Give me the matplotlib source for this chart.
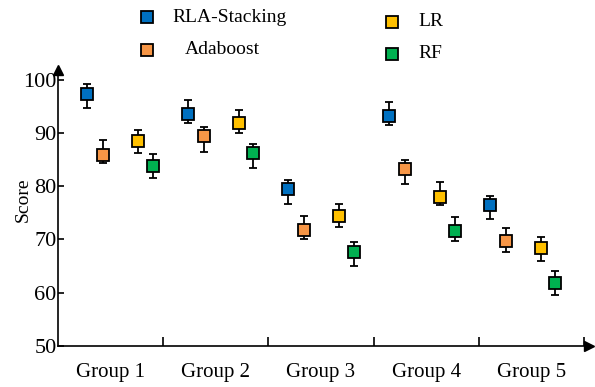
import matplotlib
matplotlib.use("Agg")
import matplotlib.pyplot as plt
from matplotlib.lines import Line2D
import numpy as np

plt.rcParams['font.family'] = ['Liberation Serif', 'DejaVu Serif']

groups = ["Group 1", "Group 2", "Group 3", "Group 4", "Group 5"]
models = ["RLA-Stacking", "Adaboost", "LR", "RF"]
colors = ["#0070C0", "#F79646", "#FFC000", "#00B050"]

# centre value, upper whisker, lower whisker per model (one entry per group)
rla_mid = [97.3, 93.6, 79.5, 93.1, 76.5]
rla_hi = [99.1, 96.2, 81.1, 95.8, 78.2]
rla_lo = [94.6, 91.8, 76.7, 91.4, 73.8]

ada_mid = [85.8, 89.4, 71.7, 83.2, 69.8]
ada_hi = [88.7, 91.2, 74.4, 85.0, 72.1]
ada_lo = [84.3, 86.5, 70.0, 80.5, 67.7]

lr_mid = [88.4, 91.9, 74.4, 77.9, 68.3]
lr_hi = [90.6, 94.3, 76.7, 80.8, 70.4]
lr_lo = [86.2, 89.9, 72.3, 76.4, 65.9]

rf_mid = [83.7, 86.2, 67.7, 71.5, 61.9]
rf_hi = [86.0, 88.0, 69.5, 74.2, 64.0]
rf_lo = [81.5, 83.4, 65.1, 69.8, 59.6]

series = [(rla_mid, rla_hi, rla_lo), (ada_mid, ada_hi, ada_lo),
          (lr_mid, lr_hi, lr_lo), (rf_mid, rf_hi, rf_lo)]

fig = plt.figure(figsize=(5.95, 3.87), dpi=100)
ax = fig.add_axes([0.0975, 0.106, 0.893, 0.713])

group_start = 0.276 + 0.957 * np.arange(len(groups))
offsets = [0.0, 0.152, 0.485, 0.623]

for (mid, hi, lo), off, col in zip(series, offsets, colors):
    mid = np.array(mid); hi = np.array(hi); lo = np.array(lo)
    x = group_start + off
    ax.errorbar(x, mid, yerr=[mid - lo, hi - mid], fmt='none', ecolor='black',
                elinewidth=1.3, capsize=3.2, capthick=1.3, zorder=2)
    ax.plot(x, mid, ls='none', marker='s', markersize=8.3, markerfacecolor=col,
            markeredgecolor='black', markeredgewidth=1.3, zorder=3)

ax.set_xlim(0, 5.05)
ax.set_ylim(50, 101.8)

for s in ("top", "right"):
    ax.spines[s].set_visible(False)
for s in ("left", "bottom"):
    ax.spines[s].set_linewidth(1.2)

# axis arrows
ax.plot(1, 0, marker='>', color='black', markersize=7, transform=ax.transAxes, clip_on=False)
ax.plot(0, 1, marker='^', color='black', markersize=7, transform=ax.transAxes, clip_on=False)

ax.set_yticks([50, 60, 70, 80, 90, 100])
ax.tick_params(axis='y', direction='in', length=4, width=1.2, pad=1, labelsize=16)

ax.set_xticks([1, 2, 3, 4, 5])
ax.set_xticklabels([])
ax.tick_params(axis='x', which='major', direction='in', length=6.5, width=1.2)
ax.set_xticks(np.arange(len(groups)) + 0.5, minor=True)
ax.set_xticklabels(groups, minor=True)
ax.tick_params(axis='x', which='minor', length=0, pad=12, labelsize=15)

ax.set_ylabel("Score", fontsize=14)
ax.yaxis.set_label_coords(-0.05, 0.53)

# legend, laid out in two columns
W, H = 595.0, 387.0
legend_items = [(147, 17, 172), (147, 50, 185), (392, 22, 418), (392, 54, 418)]
for (mx, my, tx), name, col in zip(legend_items, models, colors):
    fig.add_artist(Line2D([mx / W], [1 - my / H], ls='none', marker='s', markersize=8,
                          markerfacecolor=col, markeredgecolor='black',
                          markeredgewidth=1.3, transform=fig.transFigure))
    fig.text(tx / W, 1 - my / H, name, fontsize=14, ha='left', va='center')

fig.savefig("out.png", dpi=100)
